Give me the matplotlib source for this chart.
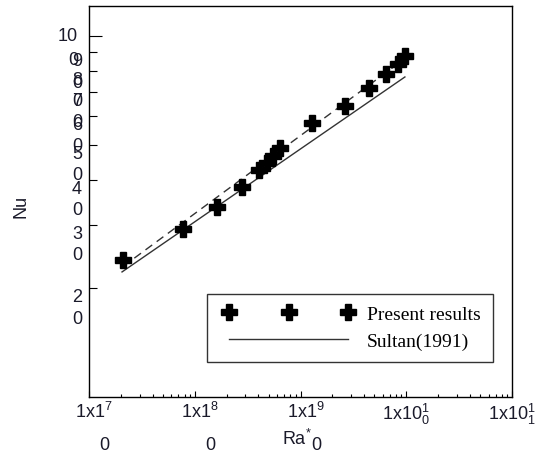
import numpy as np
import matplotlib
matplotlib.use("Agg")
import matplotlib.pyplot as plt
from matplotlib.transforms import ScaledTranslation
from matplotlib.legend_handler import HandlerLine2D

# present results (Ra*, Nu)
ra_present = [2.1e7, 7.7e7, 1.63e8, 2.78e8, 4.05e8, 4.8e8, 5.5e8, 6.4e8,
              1.28e9, 2.64e9, 4.4e9, 6.4e9, 8.3e9, 9.7e9]
nu_present = [23.9, 29.1, 33.5, 38.1, 42.4, 44.5, 46.6, 49.0,
              57.2, 64.0, 71.5, 78.4, 83.6, 88.1]

# correlation lines (end points)
ra_fit = [2.1e7, 1.0e10]
nu_fit = [23.0, 87.0]
ra_sultan = [2.05e7, 9.7e9]
nu_sultan = [22.2, 76.9]

x_ticks = [1e7, 1e8, 1e9, 1e10, 1e11]
x_labels = ["  1x1$^{7}$\n       0", "  1x1$^{8}$\n       0", "  1x1$^{9}$\n       0",
            "1x10$^{1}_{0}$", "1x10$^{1}_{1}$"]
y_major = [100]
y_major_labels = ["10\n0"]
y_minor = [20, 30, 40, 50, 60, 70, 80, 90]
y_minor_labels = ["2\n0", "3\n0", "4\n0", "5\n0", "6\n0", "7\n0", "8\n0", "9\n0"]

plt.rcParams['mathtext.default'] = 'regular'
plt.rcParams['font.family'] = ['Liberation Sans', 'DejaVu Sans']
txt_col = '#1a1a2a'

fig = plt.figure(figsize=(5.43, 4.56), dpi=100)
ax = fig.add_axes([0.164, 0.127, 0.779, 0.858])

ax.plot(ra_fit, nu_fit, color='#333333', lw=1, dashes=(6, 4))
ax.plot(ra_sultan, nu_sultan, color='#333333', lw=1, label='Sultan(1991)')
ax.plot(ra_present, nu_present, 'P', color='black', ms=12, mec='black',
        label='Present results', linestyle='none')

ax.set_xscale('log')
ax.set_yscale('log')
ax.set_xlim(1e7, 1e11)
ax.set_ylim(10, 121)

ax.set_xticks(x_ticks)
ax.set_xticklabels(x_labels, fontsize=13, color=txt_col, linespacing=2.1,
                   multialignment='left')
ax.set_yticks(y_major)
ax.set_yticklabels(y_major_labels, fontsize=13, color=txt_col, linespacing=1.5,
                   va='top')
ax.set_yticks(y_minor, minor=True)
ax.set_yticklabels(y_minor_labels, minor=True, fontsize=13, color=txt_col,
                   linespacing=1.35, va='top')

ax.tick_params(axis='x', which='major', direction='in', length=4.5, width=0.8, pad=3)
ax.tick_params(axis='x', which='minor', direction='in', length=2.5, width=0.8)
ax.tick_params(axis='y', which='major', direction='in', length=9, width=0.8, pad=5)
ax.tick_params(axis='y', which='minor', direction='in', length=6, width=0.8, pad=5)

# the "10 0" label sits a bit higher than the others
for lbl in ax.get_yticklabels():
    lbl.set_transform(lbl.get_transform() +
                      ScaledTranslation(-3 / 72, 6 / 72, fig.dpi_scale_trans))

for s in ax.spines.values():
    s.set_linewidth(1.0)

ax.set_xlabel('Ra$^{*}$', fontsize=13, color=txt_col)
ax.xaxis.set_label_coords(0.492, -0.08)
ax.set_ylabel('Nu', fontsize=13, color=txt_col)
ax.yaxis.set_label_coords(-0.14, 0.49)

handles, labels = ax.get_legend_handles_labels()
leg = ax.legend(handles[::-1], labels[::-1], loc='lower left',
                bbox_to_anchor=(0.279, 0.09), borderaxespad=0,
                numpoints=3, handlelength=7.2,
                handler_map={h: HandlerLine2D(marker_pad=0.55) for h in handles},
                fancybox=False, edgecolor='#333333', framealpha=1,
                prop={'family': 'Liberation Serif', 'size': 14},
                labelspacing=0.5, borderpad=0.6, handletextpad=0.43)
leg.get_frame().set_linewidth(1.0)

fig.savefig('out.png', dpi=100)
